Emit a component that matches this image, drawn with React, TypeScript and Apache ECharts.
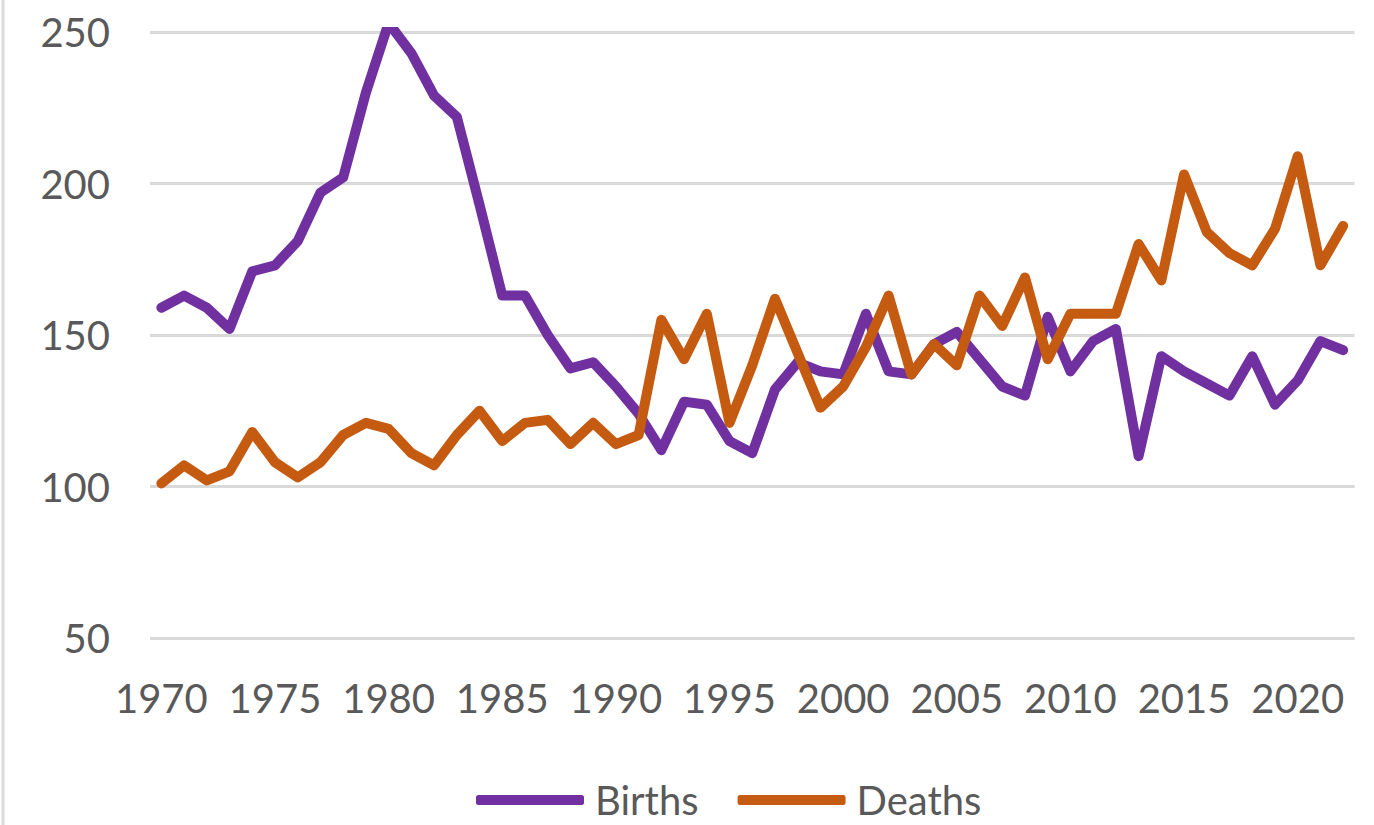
import React, { useEffect, useRef } from "react";
import * as echarts from "echarts";

const years: string[] = [];
for (let y = 1970; y <= 2022; y++) years.push(String(y));

const births = [
  159, 163, 159, 152, 171, 173, 181, 197, 202, 230, 253, 243, 229, 222, 193, 163, 163, 150,
  139, 141, 133, 124, 112, 128, 127, 115, 111, 132, 141, 138, 137, 157, 138, 137, 147, 151,
  142, 133, 130, 156, 138, 148, 152, 110, 143, 138, 134, 130, 143, 127, 135, 148, 145,
];

const deaths = [
  101, 107, 102, 105, 118, 108, 103, 108, 117, 121, 119, 111, 107, 117, 125, 115, 121, 122,
  114, 121, 114, 117, 155, 142, 157, 121, 140, 162, 144, 126, 133, 146, 163, 137, 147, 140,
  163, 153, 169, 142, 157, 157, 157, 180, 168, 203, 184, 177, 173, 185, 209, 173, 186,
];

const seriesNames = ["Births", "Deaths"];
const colors = ["#7030A0", "#C55A11"];
const FONT = "Lato";
const TEXT_COLOR = "#595959";

export default function App() {
  const ref = useRef<HTMLDivElement>(null);
  useEffect(() => {
    if (!ref.current) return;
    const chart = echarts.init(ref.current, undefined, { renderer: "svg" });
    chart.setOption({
      animation: false,
      backgroundColor: "#ffffff",
      grid: { left: 150, right: 19.5, top: 32, bottom: 187, containLabel: false },
      legend: {
        left: 476,
        top: 780,
        padding: 0,
        itemGap: 39,
        itemWidth: 108,
        itemHeight: 10,
        icon: "roundRect",
        textStyle: {
          fontFamily: FONT,
          fontSize: 40,
          color: TEXT_COLOR,
          padding: [0, 0, 0, 6],
        },
        data: seriesNames,
      },
      xAxis: {
        type: "category",
        data: years,
        boundaryGap: true,
        axisLine: { show: false },
        axisTick: { show: false },
        axisLabel: {
          interval: 4,
          fontFamily: FONT,
          fontSize: 40,
          color: TEXT_COLOR,
          margin: 40,
        },
        splitLine: { show: false },
      },
      yAxis: {
        type: "value",
        min: 50,
        max: 250,
        interval: 50,
        axisLine: { show: false },
        axisTick: { show: false },
        axisLabel: { fontFamily: FONT, fontSize: 40, color: TEXT_COLOR, margin: 40 },
        splitLine: { lineStyle: { color: "#d9d9d9", width: 3 } },
      },
      graphic: [
        {
          type: "line",
          shape: { x1: 3, y1: 0, x2: 3, y2: 825 },
          style: { stroke: "#d9d9d9", lineWidth: 3 },
        },
      ],
      series: [
        {
          name: seriesNames[0],
          type: "line",
          data: births,
          showSymbol: false,
          symbol: "none",
          itemStyle: { color: colors[0] },
          lineStyle: { color: colors[0], width: 10, cap: "round", join: "round" },
        },
        {
          name: seriesNames[1],
          type: "line",
          data: deaths,
          showSymbol: false,
          symbol: "none",
          itemStyle: { color: colors[1] },
          lineStyle: { color: colors[1], width: 10, cap: "round", join: "round" },
        },
      ],
    });
    return () => chart.dispose();
  }, []);
  return (
    <div
      ref={ref}
      style={{ position: "fixed", left: 0, top: 0, width: 1374, height: 825 }}
    />
  );
}
